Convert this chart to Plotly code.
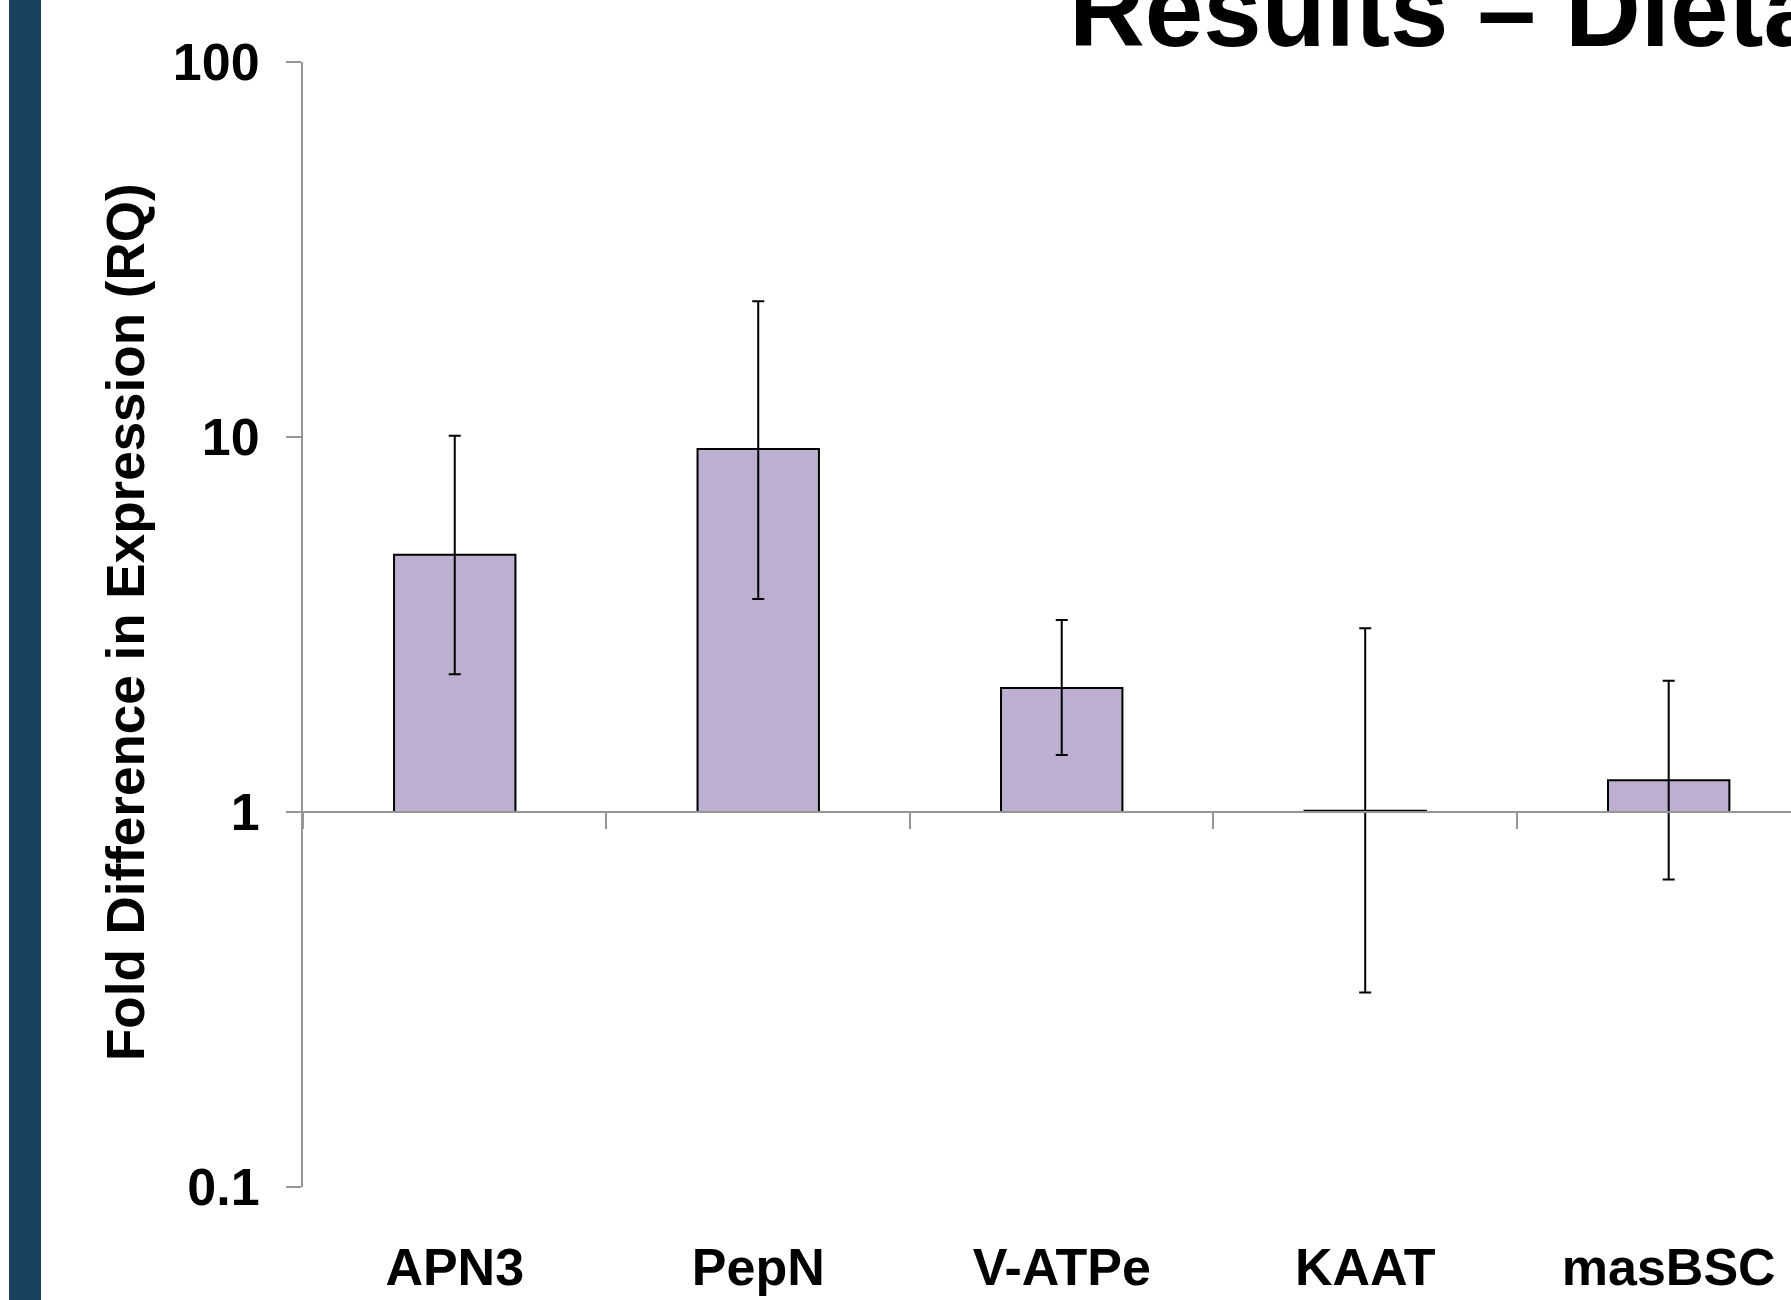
import plotly.graph_objects as go

# ---- data ----
genes = ["APN3", "PepN", "V-ATPe", "KAAT", "masBSC"]
rq = [4.85, 9.29, 2.14, 1.008, 1.215]
rq_upper = [10.07, 23.0, 3.25, 3.09, 2.24]
rq_lower = [2.33, 3.70, 1.42, 0.33, 0.661]
ytick_vals = [0.1, 1, 10, 100]
ytick_text = ["0.1", "1", "10", "100"]

# ---- layout geometry ----
W, H = 1791, 1300
L, R, T, B = 303, 0, 62, 113
PW, PH = W - L - R, H - T - B
ylog_range = [-1, 2]
xrange_ = [-0.5, 4.403]

def px_x(px):
    return (px - L) / PW

def px_y(py):
    return 1 - (py - T) / PH

FONT = "Liberation Sans, Arial, sans-serif"
GRAY = "#969696"
BAR = "#BDAFCF"
BASE = 1

fig = go.Figure()
fig.add_trace(go.Bar(
    x=genes, y=[v - BASE for v in rq], base=BASE,
    marker=dict(color=BAR, line=dict(color="black", width=2)),
    width=0.4, hoverinfo="skip", showlegend=False,
))
fig.add_trace(go.Scatter(
    x=genes, y=rq, xaxis="x2", yaxis="y", mode="markers",
    marker=dict(size=1, opacity=0),
    error_y=dict(type="data", symmetric=False,
                 array=[u - v for u, v in zip(rq_upper, rq)],
                 arrayminus=[v - l for v, l in zip(rq, rq_lower)],
                 color="black", thickness=2, width=6),
    hoverinfo="skip", showlegend=False,
))

axis_pos = (0 - ylog_range[0]) / (ylog_range[1] - ylog_range[0])

fig.update_layout(
    width=W, height=H, autosize=False,
    margin=dict(l=L, r=R, t=T, b=B, pad=0),
    paper_bgcolor="white", plot_bgcolor="white",
    font=dict(family=FONT, size=52, color="black", weight="bold"),
    bargap=0.6,
    xaxis=dict(type="category", categoryorder="array", categoryarray=genes,
               range=xrange_, showline=False, ticks="", showgrid=False,
               zeroline=False, ticklabelstandoff=45,
               tickfont=dict(family=FONT, size=52, color="black", weight="bold")),
    xaxis2=dict(type="category", categoryorder="array", categoryarray=genes,
                range=xrange_, overlaying="x", anchor="free", position=axis_pos,
                showline=True, linecolor=GRAY, linewidth=2,
                ticks="outside", tickson="boundaries", ticklen=16, tickwidth=2,
                tickcolor=GRAY, showticklabels=False, showgrid=False, zeroline=False),
    yaxis=dict(type="log", range=ylog_range, tickvals=ytick_vals, ticktext=ytick_text,
               showline=True, linecolor=GRAY, linewidth=2, ticks="outside",
               ticklen=15, tickwidth=2, tickcolor=GRAY, showgrid=False, zeroline=False,
               ticklabelstandoff=16,
               tickfont=dict(family=FONT, size=52, color="black", weight="bold")),
    shapes=[dict(type="rect", xref="paper", yref="paper",
                 x0=px_x(9), x1=px_x(41), y0=px_y(H + 5), y1=px_y(-5),
                 fillcolor="#18425E", line=dict(width=0), layer="above")],
    annotations=[
        dict(text="Fold Difference in Expression (RQ)", textangle=-90,
             xref="paper", yref="paper", x=px_x(125), y=px_y(622),
             xanchor="center", yanchor="middle", showarrow=False,
             font=dict(family=FONT, size=53, color="black", weight="bold")),
        dict(text="Results – Dietary", xref="paper", yref="paper",
             x=px_x(1067), y=px_y(9), xanchor="left", yanchor="middle",
             showarrow=False,
             font=dict(family=FONT, size=105, color="black", weight="bold")),
    ],
)

fig.write_html(
    "out.html",
    config={"displayModeBar": False},
    post_script="document.body.style.margin='0';document.body.style.overflow='hidden';",
)
